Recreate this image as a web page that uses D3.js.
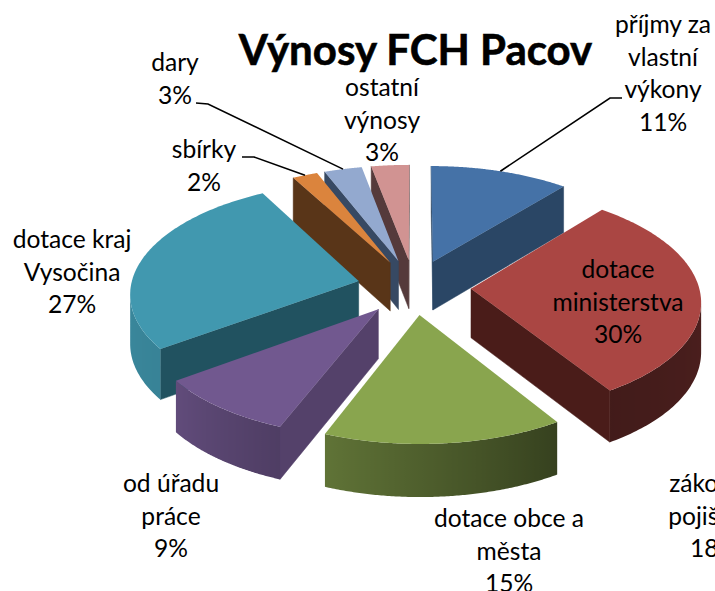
<!DOCTYPE html>
<html lang="cs">
<head>
  <meta charset="UTF-8">
  <title>Výnosy FCH Pacov</title>
  <style>
    html, body { margin: 0; padding: 0; background: #fff; overflow: hidden; }
    svg { display: block; }
    text { font-family: Lato, "Open Sans", sans-serif; fill: #000; }
  </style>
  <script src="https://d3js.org/d3.v7.min.js"></script>
</head>
<body>
  <svg id="chart" width="715" height="591"></svg>
  <script>
    const categories = ['příjmy za vlastní výkony', 'dotace ministerstva', 'dotace obce a města', 'od úřadu práce',
      'dotace kraj Vysočina', 'sbírky', 'dary', 'ostatní výnosy'];
    const values = [11, 30, 15, 9, 27, 2, 3, 3];
    const topColors = ['#4572a7', '#aa4643', '#89a54e', '#71588f', '#4198af', '#db843d', '#93a9cf', '#d19392'];
    const wallColors = ['#2a4665', '#4a1c19', '#36401d', '#54416a', '#215260', '#593518', '#374963', '#553a3b'];

    // label lines, broken as in the picture
    const labelLines = [
      ['příjmy za', 'vlastní', 'výkony', '11%'],
      ['dotace', 'ministerstva', '30%'],
      ['dotace obce a', 'města', '15%'],
      ['od úřadu', 'práce', '9%'],
      ['dotace kraj', 'Vysočina', '27%'],
      ['sbírky', '2%'],
      ['dary', '3%'],
      ['ostatní', 'výnosy', '3%']
    ];
    const labelPos = [[663, 33], [618, 278], [509, 527], [171, 492], [72, 248], [204, 158], [175, 71], [382, 96]];
    // this label has no slice in the picture, and runs off the right edge
    const offLabel = ['zákonné', 'pojištění', '18%'];
    const offLabelPos = [714, 492];
    const leaders = { 0: [[622, 98], [610, 98]], 5: [[242, 157], [254, 157]], 6: [[196, 103], [208, 104]] };

    const cx = 414, cy = 287, Rx = 228, Ry = 110, persp = 0.1, explode = 0.25, depth = 49;
    const lineH = 32.7;

    const svg = d3.select('#chart');
    const defs = svg.append('defs');

    function project(X, Y) {
      const s = 1 / (1 - persp * Y);
      return { x: cx + Rx * X * s, y: cy + Ry * Y * s, drop: depth * Math.pow(s, 0.6) };
    }

    const rimShade = d3.scaleLinear()
      .domain([100, 147, 200, 234, 290].map(d => d * Math.PI / 180))
      .range([0.44, 0.39, 0.69, 0.86, 0.92])
      .clamp(true);

    const arcs = d3.pie().sort(null).value(d => d)(values).map((d, i) => {
      const mid = (d.startAngle + d.endAngle) / 2;
      const ox = explode * Math.sin(mid), oy = -explode * Math.cos(mid);
      const rim = a => project(ox + Math.sin(a), oy - Math.cos(a));
      const steps = d3.range(0, 121).map(k => d.startAngle + (d.endAngle - d.startAngle) * k / 120);
      return { i, mid, apex: project(ox, oy), rim, steps, start: d.startAngle, end: d.endAngle };
    });

    const poly = pts => d3.line().x(p => p[0]).y(p => p[1])(pts) + 'Z';

    // a radial wall shows only if the slice lies above it on screen
    function wallVisible(a, angle) {
      const p = a.rim(angle), m = a.rim(a.mid);
      const dx = p.x - a.apex.x, dy = p.y - a.apex.y;
      const lineY = a.apex.y + dy * (m.x - a.apex.x) / (Math.abs(dx) < 1e-6 ? 1e-6 : dx);
      return Math.abs(dx) > 1e-6 && m.y < lineY;
    }

    function drawWall(g, a, angle) {
      const p = a.rim(angle);
      g.append('path')
        .attr('d', poly([[a.apex.x, a.apex.y], [p.x, p.y], [p.x, p.y + p.drop], [a.apex.x, a.apex.y + a.apex.drop]]))
        .attr('fill', wallColors[a.i])
        .attr('stroke', wallColors[a.i])
        .attr('stroke-width', 0.5);
    }

    // rim: only the part running right to left faces the viewer, shaded by a gradient along x
    function drawRim(g, a) {
      const front = a.steps.filter((t, k) => {
        const prev = a.steps[k - 1], next = a.steps[k + 1];
        return (prev !== undefined && a.rim(t).x < a.rim(prev).x) ||
          (next !== undefined && a.rim(next).x < a.rim(t).x);
      });
      if (front.length < 2) return;
      const pts = front.map(t => a.rim(t));
      const col = d3.rgb(topColors[a.i]);
      const id = 'rim' + a.i;
      defs.append('linearGradient')
        .attr('id', id)
        .attr('gradientUnits', 'userSpaceOnUse')
        .attr('x1', pts[0].x).attr('y1', 0)
        .attr('x2', pts[pts.length - 1].x).attr('y2', 0)
        .selectAll('stop')
        .data(front)
        .enter().append('stop')
        .attr('offset', (t, k) => (pts[0].x - pts[k].x) / (pts[0].x - pts[pts.length - 1].x))
        .attr('stop-color', t => {
          const k = rimShade(t);
          return d3.rgb(col.r * k, col.g * k, col.b * k).formatHex();
        });
      const upper = pts.map(p => [p.x, p.y]);
      const lower = pts.map(p => [p.x, p.y + p.drop]).reverse();
      g.append('path')
        .attr('d', poly(upper.concat(lower)))
        .attr('fill', 'url(#' + id + ')');
    }

    // back slices first
    const order = arcs.slice().sort((u, v) => -Math.cos(u.mid) - -Math.cos(v.mid));

    order.forEach(a => {
      const g = svg.append('g');
      if (wallVisible(a, a.start)) drawWall(g, a, a.start);
      if (wallVisible(a, a.end)) drawWall(g, a, a.end);
      drawRim(g, a);
      const top = [[a.apex.x, a.apex.y]].concat(a.steps.map(t => { const p = a.rim(t); return [p.x, p.y]; }));
      g.append('path').attr('d', poly(top)).attr('fill', topColors[a.i]);
    });

    // leader lines run from the label to the middle of the slice's rim
    Object.keys(leaders).forEach(key => {
      const a = arcs[+key];
      const end = a.rim(a.mid);
      svg.append('path')
        .attr('d', d3.line()(leaders[key].concat([[end.x, end.y]])))
        .attr('fill', 'none')
        .attr('stroke', '#000')
        .attr('stroke-width', 1.6);
    });

    function drawLabel(lines, pos) {
      const t = svg.append('text')
        .attr('text-anchor', 'middle')
        .attr('font-size', 24.6);
      lines.forEach((line, k) => {
        t.append('tspan').attr('x', pos[0]).attr('y', pos[1] + k * lineH).text(line);
      });
    }
    labelLines.forEach((lines, i) => drawLabel(lines, labelPos[i]));
    drawLabel(offLabel, offLabelPos);

    svg.append('text')
      .attr('x', 415.5)
      .attr('y', 65)
      .attr('text-anchor', 'middle')
      .attr('font-size', 42)
      .attr('font-weight', 700)
      .attr('stroke', '#000')
      .attr('stroke-width', 0.6)
      .text('Výnosy FCH Pacov');
  </script>
</body>
</html>
